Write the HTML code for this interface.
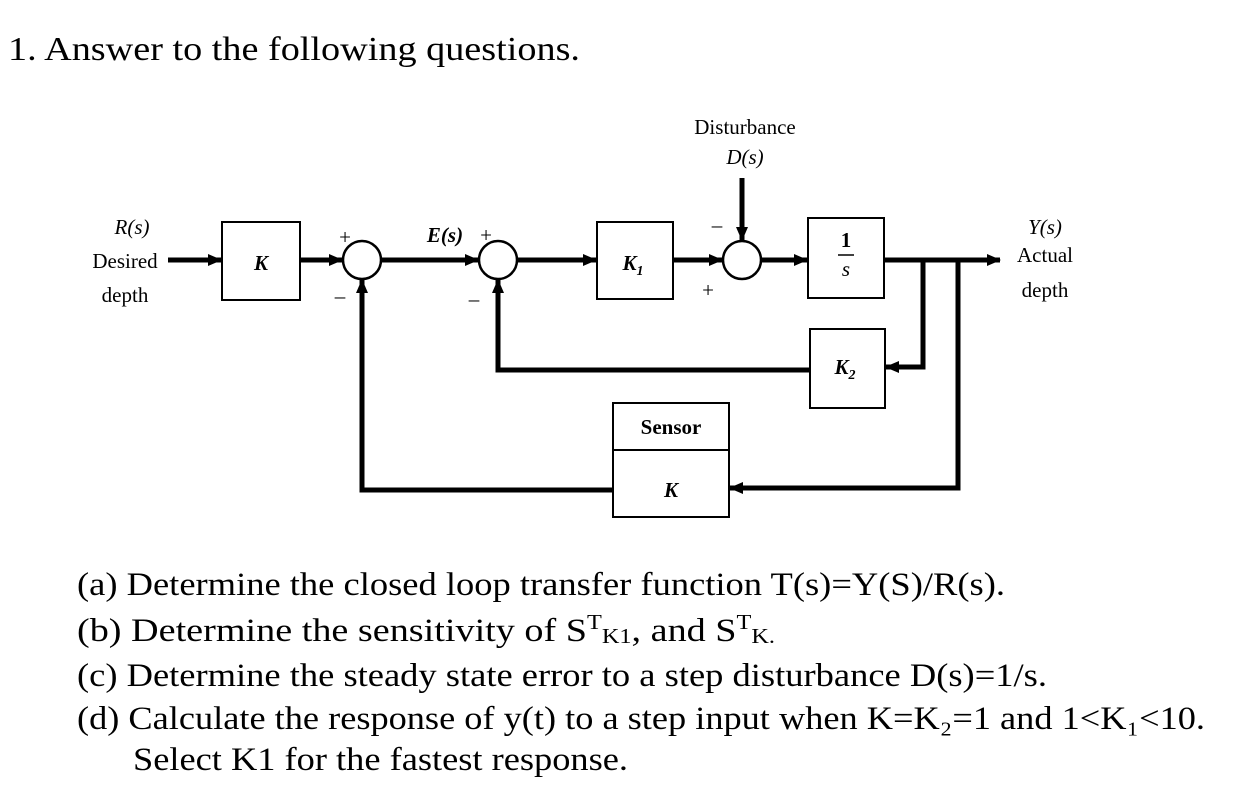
<!DOCTYPE html>
<html><head><style>
html,body{margin:0;padding:0;background:#fff;}
svg{display:block;}
.t{font-family:"Liberation Serif",serif;fill:#000;}
</style></head><body>
<svg width="1245" height="795" viewBox="0 0 1245 795" xmlns="http://www.w3.org/2000/svg">
<defs>
<marker id="b" viewBox="0 0 14 12" markerWidth="14" markerHeight="12" refX="13" refY="6" orient="auto" markerUnits="userSpaceOnUse">
<path d="M0,0 L14,6 L0,12 z" fill="#000"/>
</marker>
</defs>
<text class="t" x="8" y="60" font-size="34" textLength="572" lengthAdjust="spacingAndGlyphs">1.  Answer to the following questions.</text>

<g stroke="#000" fill="none">
<rect x="222" y="222" width="78" height="78" stroke-width="2"/>
<rect x="597" y="222" width="76" height="77" stroke-width="2"/>
<rect x="808" y="218" width="76" height="80" stroke-width="2"/>
<rect x="810" y="329" width="75" height="79" stroke-width="2"/>
<rect x="613" y="403" width="116" height="114" stroke-width="2"/>
<line x1="613" y1="450" x2="729" y2="450" stroke-width="2"/>
<circle cx="362" cy="260" r="19" stroke-width="2.5"/>
<circle cx="498" cy="260" r="19" stroke-width="2.5"/>
<circle cx="742" cy="260" r="19" stroke-width="2.5"/>
<g stroke-width="5">
<line x1="168" y1="260" x2="221" y2="260" marker-end="url(#b)"/>
<line x1="301" y1="260" x2="342" y2="260" marker-end="url(#b)"/>
<line x1="381" y1="260" x2="478" y2="260" marker-end="url(#b)"/>
<line x1="517" y1="260" x2="596" y2="260" marker-end="url(#b)"/>
<line x1="674" y1="260" x2="722" y2="260" marker-end="url(#b)"/>
<line x1="761" y1="260" x2="807" y2="260" marker-end="url(#b)"/>
<line x1="885" y1="260" x2="1000" y2="260" marker-end="url(#b)"/>
<line x1="742" y1="178" x2="742" y2="240" marker-end="url(#b)"/>
<polyline points="923,260 923,367 886,367" marker-end="url(#b)"/>
<polyline points="810,370 498,370 498,280" marker-end="url(#b)"/>
<polyline points="958,260 958,488 730,488" marker-end="url(#b)"/>
<polyline points="613,490 362,490 362,280" marker-end="url(#b)"/>
</g>
</g>

<g class="t" font-size="21">
<text x="745" y="134" text-anchor="middle">Disturbance</text>
<text x="745" y="164" text-anchor="middle" font-style="italic">D(s)</text>
<text x="132" y="234" text-anchor="middle" font-style="italic">R(s)</text>
<text x="125" y="268" text-anchor="middle">Desired</text>
<text x="125" y="302" text-anchor="middle">depth</text>
<text x="1045" y="234" text-anchor="middle" font-style="italic">Y(s)</text>
<text x="1045" y="262" text-anchor="middle">Actual</text>
<text x="1045" y="297" text-anchor="middle">depth</text>
<text x="261" y="270" text-anchor="middle" font-style="italic" font-weight="bold">K</text>
<text x="633" y="270" text-anchor="middle" font-style="italic" font-weight="bold">K<tspan font-size="14" dy="5">1</tspan></text>
<text x="846" y="247" text-anchor="middle" font-weight="bold">1</text>
<line x1="838" y1="255" x2="854" y2="255" stroke="#000" stroke-width="1.5"/>
<text x="846" y="276" text-anchor="middle" font-style="italic">s</text>
<text x="845" y="374" text-anchor="middle" font-style="italic" font-weight="bold">K<tspan font-size="14" dy="5">2</tspan></text>
<text x="671" y="434" text-anchor="middle" font-weight="bold">Sensor</text>
<text x="671" y="497" text-anchor="middle" font-style="italic" font-weight="bold">K</text>
<text x="445" y="242" text-anchor="middle" font-style="italic" font-weight="bold">E(s)</text>
<text x="345" y="244" text-anchor="middle">+</text>
<text x="486" y="242" text-anchor="middle">+</text>
<text x="708" y="297" text-anchor="middle">+</text>
<text x="340" y="303" text-anchor="middle">–</text>
<text x="474" y="306" text-anchor="middle">–</text>
<text x="717" y="232" text-anchor="middle">–</text>
</g>

<g class="t" font-size="33">
<text x="77" y="595" textLength="928" lengthAdjust="spacingAndGlyphs">(a) Determine the closed loop transfer function T(s)=Y(S)/R(s).</text>
<text x="77" y="641" textLength="698" lengthAdjust="spacingAndGlyphs">(b) Determine the sensitivity of S<tspan font-size="21" dy="-12">T</tspan><tspan font-size="21" dy="14">K1</tspan><tspan dy="-2">, and S</tspan><tspan font-size="21" dy="-12">T</tspan><tspan font-size="21" dy="14">K.</tspan></text>
<text x="77" y="686" textLength="970" lengthAdjust="spacingAndGlyphs">(c) Determine the steady state error to a step disturbance D(s)=1/s.</text>
<text x="77" y="729" textLength="1128" lengthAdjust="spacingAndGlyphs">(d) Calculate the response of y(t) to a step input when K=K₂=1 and 1&lt;K₁&lt;10.</text>
<text x="133" y="770" textLength="495" lengthAdjust="spacingAndGlyphs">Select K1 for the fastest response.</text>
</g>
</svg>
</body></html>
